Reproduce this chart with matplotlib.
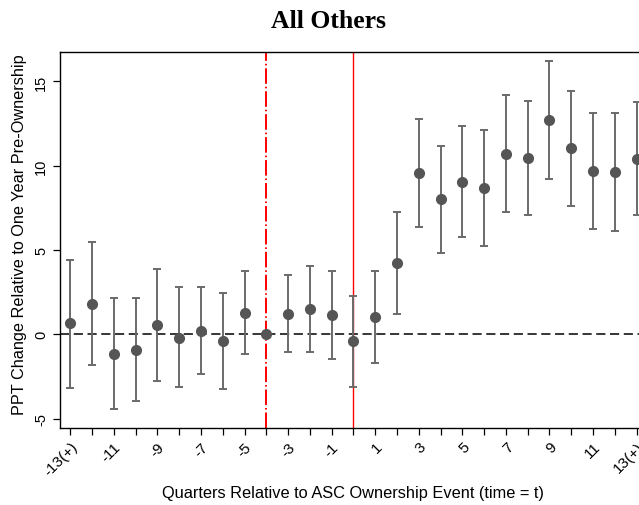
import matplotlib
matplotlib.use("Agg")
import matplotlib.pyplot as plt
import numpy as np

quarters = list(range(-13, 14))
estimates = [0.65, 1.80, -1.15, -0.93, 0.53, -0.20, 0.22, -0.40, 1.28, 0.0, 1.23, 1.50, 1.15,
             -0.40, 1.01, 4.25, 9.57, 8.00, 9.05, 8.66, 10.71, 10.47, 12.69, 11.03, 9.66, 9.64, 10.40]
upper = [4.43, 5.45, 2.15, 2.17, 3.87, 2.81, 2.81, 2.45, 3.77, 0.0, 3.52, 4.05, 3.74,
         2.29, 3.75, 7.27, 12.77, 11.19, 12.37, 12.09, 14.17, 13.85, 16.19, 14.43, 13.14, 13.14, 13.76]
lower = [-3.18, -1.84, -4.41, -3.97, -2.79, -3.14, -2.35, -3.22, -1.15, 0.0, -1.05, -1.05, -1.46,
         -3.12, -1.70, 1.21, 6.38, 4.84, 5.75, 5.24, 7.25, 7.09, 9.23, 7.63, 6.23, 6.15, 7.09]
xtick_vals = [-13, -11, -9, -7, -5, -3, -1, 1, 3, 5, 7, 9, 11, 13]
xtick_labels = ["-13(+)", "-11", "-9", "-7", "-5", "-3", "-1", "1", "3", "5", "7", "9", "11", "13(+)"]
ytick_vals = [-5, 0, 5, 10, 15]
event_ref = -4
event_time = 0

W, H = 639, 506
fig = plt.figure(figsize=(W / 100, H / 100), dpi=100)
ax = fig.add_axes([60 / W, 1 - 429.3 / H, 1 - 60 / W, (429.3 - 52.7) / H])

q = np.array(quarters)
est = np.array(estimates)
up = np.array(upper)
lo = np.array(lower)
mask = ~((up == 0) & (lo == 0))

ax.axhline(0, color="black", lw=1.1, dashes=(6, 3), zorder=1)
ax.axvline(event_ref, color="#ff0000", lw=1.4, dashes=(8, 1.5, 0.8, 1.5), zorder=1)
ax.axvline(event_time, color="#ff0000", lw=1.0, zorder=1)

ax.errorbar(q[mask], est[mask], yerr=[est[mask] - lo[mask], up[mask] - est[mask]],
            fmt="none", ecolor="#6a6a6a", elinewidth=1.4, capsize=2.8, capthick=1.4, zorder=2)
ax.plot(q, est, "o", color="#555555", markersize=7, zorder=3)

ax.set_xlim(-13.47, 13.11)
ax.set_ylim(-5.57, 16.76)
ax.set_xticks(xtick_vals)
ax.set_xticklabels(xtick_labels, rotation=45, ha="right", rotation_mode="anchor",
                   fontsize=11, family="Liberation Sans")
ax.set_xticks([v for v in quarters if v not in xtick_vals], minor=True)
ax.tick_params(axis="x", which="both", length=5, width=0.9, direction="out", pad=3)
ax.set_yticks(ytick_vals)
ax.set_yticklabels([str(v) for v in ytick_vals], rotation=90, va="center",
                   fontsize=10.5, family="Liberation Sans")
ax.tick_params(axis="y", length=5, width=0.9)

ax.spines["right"].set_visible(False)
for s in ["left", "bottom", "top"]:
    ax.spines[s].set_linewidth(1.0)

fig.text(20 / W, 1 - 235 / H, "PPT Change Relative to One Year Pre-Ownership",
         rotation=90, ha="center", va="center", fontsize=11.7, family="Liberation Sans")
fig.text(353 / W, 1 - 498 / H, "Quarters Relative to ASC Ownership Event (time = t)",
         ha="center", va="baseline", fontsize=11.8, family="Liberation Sans")
fig.text(328.5 / W, 1 - 28.5 / H, "All Others", ha="center", va="baseline", fontsize=18.5,
         fontweight="bold", family="Liberation Serif")

fig.savefig("out.png", dpi=100)
